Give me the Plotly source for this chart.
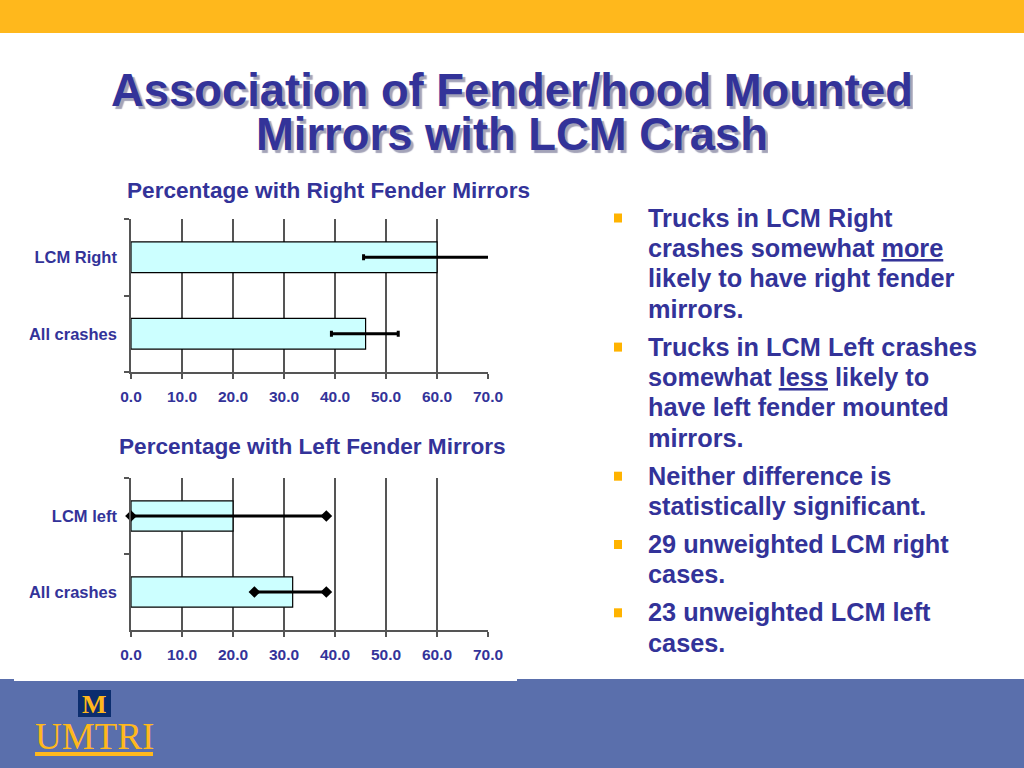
import plotly.graph_objects as go

# ---------------- data ----------------
right_categories = ["All crashes", "LCM Right"]
right_values = [46.0, 60.0]
right_low = [39.3, 45.6]
right_high = [52.4, 70.3]

left_categories = ["All crashes", "LCM left"]
left_values = [31.7, 20.0]
left_low = [24.2, 0.0]
left_high = [38.3, 38.3]

x_ticks = [0, 10, 20, 30, 40, 50, 60, 70]
x_tick_labels = ["0.0", "10.0", "20.0", "30.0", "40.0", "50.0", "60.0", "70.0"]

title_lines = ["Association of Fender/hood Mounted", "Mirrors with LCM Crash"]
chart_titles = ["Percentage with Right Fender Mirrors", "Percentage with Left Fender Mirrors"]

bullets = [
    ["Trucks in LCM Right", "crashes somewhat <u>more</u>", "likely to have right fender", "mirrors."],
    ["Trucks in LCM Left crashes", "somewhat <u>less</u> likely to", "have left fender mounted", "mirrors."],
    ["Neither difference is", "statistically significant."],
    ["29 unweighted LCM right", "cases."],
    ["23 unweighted LCM left", "cases."],
]

# ---------------- style ----------------
W, H = 1024, 768
NAVY = "#333399"
FONT = "Liberation Sans, Arial, sans-serif"
BAR_FILL = "#CCFFFF"
YELLOW = "#FFB81C"
FOOT_BLUE = "#5A6FAC"


def px(x):
    return x / W


def py(y):
    return 1 - y / H


fig = go.Figure()

# chart 1 (right mirrors)
fig.add_trace(go.Bar(
    x=right_values, y=right_categories, orientation="h",
    marker=dict(color=BAR_FILL, line=dict(color="black", width=1.2)),
    width=0.4, xaxis="x", yaxis="y", showlegend=False,
    error_x=dict(type="data", symmetric=False,
                 array=[h - v for h, v in zip(right_high, right_values)],
                 arrayminus=[v - l for v, l in zip(right_values, right_low)],
                 color="black", thickness=3, width=3),
))

# chart 2 (left mirrors)
fig.add_trace(go.Bar(
    x=left_values, y=left_categories, orientation="h",
    marker=dict(color=BAR_FILL, line=dict(color="black", width=1.2)),
    width=0.4, xaxis="x2", yaxis="y2", showlegend=False,
))
ex, ey = [], []
for cat, lo, hi in zip(left_categories, left_low, left_high):
    ex += [lo, hi, None]
    ey += [cat, cat, None]
fig.add_trace(go.Scatter(
    x=ex, y=ey, mode="lines+markers", xaxis="x2", yaxis="y2",
    line=dict(color="black", width=3),
    marker=dict(symbol="diamond", size=9, color="black"),
    showlegend=False, cliponaxis=False,
))

xaxis_common = dict(
    range=[0, 70], tickvals=x_ticks, ticktext=x_tick_labels,
    showgrid=True, gridcolor="#555555", gridwidth=1.5,
    showline=True, linecolor="#555555", linewidth=1.5,
    ticks="outside", ticklen=5, tickcolor="#555555", tickwidth=1.5,
    tickfont=dict(family=FONT, size=15.5, color=NAVY, weight="bold"),
    ticklabelstandoff=5, zeroline=False, fixedrange=True, automargin=False,
)
yaxis_common = dict(
    type="category", range=[-0.5, 1.5], tickson="boundaries",
    showline=True, linecolor="#555555", linewidth=1.5,
    ticks="outside", ticklen=5, tickcolor="#555555", tickwidth=1.5,
    tickfont=dict(family=FONT, size=16.5, color=NAVY, weight="bold"),
    ticklabelstandoff=9, showgrid=False, zeroline=False, fixedrange=True, automargin=False,
)

fig.update_layout(
    width=W, height=H, margin=dict(l=0, r=0, t=0, b=0, pad=0, autoexpand=False),
    paper_bgcolor="white", plot_bgcolor="rgba(0,0,0,0)",
    xaxis=dict(domain=[px(131), px(488)], anchor="y", **xaxis_common),
    yaxis=dict(domain=[py(372), py(219)], anchor="x", **yaxis_common),
    xaxis2=dict(domain=[px(131), px(488)], anchor="y2", **xaxis_common),
    yaxis2=dict(domain=[py(630), py(478)], anchor="x2", **yaxis_common),
    bargap=0.6,
)

shapes = [
    dict(type="rect", xref="paper", yref="paper", x0=0, x1=1, y0=py(33), y1=1,
         fillcolor=YELLOW, line=dict(width=0), layer="below"),
    dict(type="rect", xref="paper", yref="paper", x0=0, x1=1, y0=0, y1=py(679),
         fillcolor=FOOT_BLUE, line=dict(width=0), layer="below"),
    dict(type="rect", xref="paper", yref="paper", x0=px(14), x1=px(517), y0=py(681), y1=py(676),
         fillcolor="white", line=dict(width=0), layer="below"),
    # logo square
    dict(type="rect", xref="paper", yref="paper", x0=px(78), x1=px(111), y0=py(717), y1=py(690),
         fillcolor="#0B2D6E", line=dict(width=0)),
    # logo underline
    dict(type="rect", xref="paper", yref="paper", x0=px(35), x1=px(153), y0=py(756), y1=py(752),
         fillcolor=YELLOW, line=dict(width=0)),
]

annotations = []
# main title with drop shadow
for i, line in enumerate(title_lines):
    yc = 90 + i * 44
    annotations.append(dict(text=f"<b>{line}</b>", x=px(512), y=py(yc), xref="paper", yref="paper",
                            showarrow=False, xanchor="center", yanchor="middle", height=40,
                            font=dict(family=FONT, size=45.4, color=NAVY,
                                      shadow="3px 3px 1px #A3A3B8")))

# chart titles
for t, (xc, yc) in zip(chart_titles, [(328, 190), (312, 446)]):
    annotations.append(dict(text=f"<b>{t}</b>", x=px(xc), y=py(yc), xref="paper", yref="paper",
                            showarrow=False, xanchor="center", yanchor="middle",
                            font=dict(family=FONT, size=22.6, color=NAVY)))

# bullets
line_y = 217.5
for group in bullets:
    shapes.append(dict(type="rect", xref="paper", yref="paper", x0=px(614), x1=px(622),
                       y0=py(line_y + 5), y1=py(line_y - 4), fillcolor="#FFB300", line=dict(width=0)))
    for j, line in enumerate(group):
        annotations.append(dict(text=f"<b>{line}</b>", x=px(645.5), y=py(line_y), xref="paper", yref="paper",
                                showarrow=False, xanchor="left", yanchor="middle",
                                font=dict(family=FONT, size=25.3, color=NAVY)))
        line_y += 30.4
    line_y += 7.5

# logo text
annotations.append(dict(text="M", x=px(94.5), y=py(704), xref="paper", yref="paper", showarrow=False,
                        xanchor="center", yanchor="middle", height=24,
                        font=dict(family="Liberation Serif, serif", size=26, color=YELLOW, weight="bold")))
annotations.append(dict(text="UMTRI", x=px(94), y=py(736), xref="paper", yref="paper", showarrow=False,
                        xanchor="center", yanchor="middle", height=30,
                        font=dict(family="Liberation Serif, serif", size=37, color=YELLOW)))

fig.update_layout(shapes=shapes, annotations=annotations)
fig.write_html(
    "out.html",
    config={"displayModeBar": False},
    post_script="document.body.style.margin='0';document.body.style.overflow='hidden';",
)
